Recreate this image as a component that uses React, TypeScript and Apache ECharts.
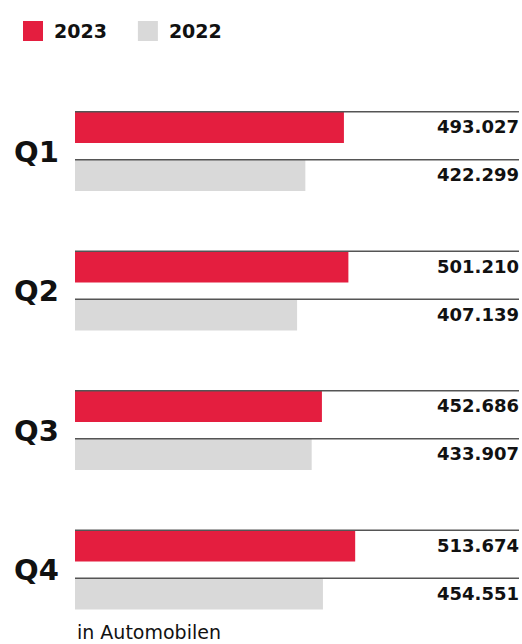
import React, { useEffect, useRef } from "react";
import * as echarts from "echarts";

const categories = ["Q1", "Q2", "Q3", "Q4"];
const values2023 = [493027, 501210, 452686, 513674];
const values2022 = [422299, 407139, 433907, 454551];
const seriesNames = ["2023", "2022"];
const footnote = "in Automobilen";

const X_MAX = 814000;
const BAR_W = 31;
const GAP_PX = 17;
const RED = "#e41e3f";
const GRAY = "#d9d9d9";
const FONT = "DejaVu Sans";

const fmt = (v: number) => {
  const s = String(Math.round(v));
  return s.length > 3 ? s.slice(0, -3) + "." + s.slice(-3) : s;
};

const makeRenderItem = (isTop: boolean) => (params: any, api: any) => {
  const cat = api.value(1);
  const v = api.value(0);
  const left = api.coord([0, cat]);
  const right = api.coord([X_MAX, cat]);
  const center = left[1];
  const barCenter = center + (isTop ? -1 : 1) * (BAR_W + GAP_PX) / 2;
  const barTop = barCenter - BAR_W / 2;
  return {
    type: "group",
    children: [
      {
        type: "line",
        shape: { x1: left[0], y1: barTop - 0.25, x2: right[0], y2: barTop - 0.25 },
        style: { stroke: "#555555", lineWidth: 1.5 },
      },
      {
        type: "text",
        style: {
          text: fmt(v),
          x: right[0],
          y: barCenter - 1,
          align: "right",
          verticalAlign: "middle",
          fontFamily: FONT,
          fontWeight: "bold",
          fontSize: 18,
          fill: "#111111",
        },
      },
    ],
  };
};

export default function App() {
  const ref = useRef<HTMLDivElement>(null);
  useEffect(() => {
    if (!ref.current) return;
    const chart = echarts.init(ref.current, undefined, { renderer: "svg" });
    chart.setOption({
      animation: false,
      backgroundColor: "#ffffff",
      legend: {
        left: 18,
        top: 16,
        itemWidth: 20,
        itemHeight: 20,
        itemGap: 31,
        icon: "rect",
        data: seriesNames,
        textStyle: {
          fontFamily: FONT,
          fontWeight: "bold",
          fontSize: 19,
          color: "#111111",
          padding: [0, 0, 0, 6],
        },
      },
      grid: { left: 75, right: 3, top: 81.75, bottom: 4.25, containLabel: false },
      xAxis: { type: "value", min: 0, max: X_MAX, show: false },
      yAxis: {
        type: "category",
        data: categories,
        inverse: true,
        axisLine: { show: false },
        axisTick: { show: false },
        splitLine: { show: false },
        axisLabel: {
          align: "left",
          margin: 61,
          fontFamily: FONT,
          fontWeight: "bold",
          fontSize: 29,
          color: "#111111",
        },
      },
      series: [
        {
          name: seriesNames[0],
          type: "bar",
          data: values2023,
          barWidth: BAR_W,
          barGap: (GAP_PX / BAR_W) * 100 + "%",
          itemStyle: { color: RED },
          z: 2,
        },
        {
          name: seriesNames[1],
          type: "bar",
          data: values2022,
          barWidth: BAR_W,
          barGap: (GAP_PX / BAR_W) * 100 + "%",
          itemStyle: { color: GRAY },
          z: 2,
        },
        {
          type: "custom",
          name: "lines2023",
          renderItem: makeRenderItem(true),
          data: values2023.map((v, i) => [v, i]),
          encode: { x: 0, y: 1 },
          z: 5,
          silent: true,
        },
        {
          type: "custom",
          name: "lines2022",
          renderItem: makeRenderItem(false),
          data: values2022.map((v, i) => [v, i]),
          encode: { x: 0, y: 1 },
          z: 5,
          silent: true,
        },
      ],
      graphic: [
        {
          type: "text",
          left: 77,
          top: 621,
          style: {
            text: footnote,
            fontFamily: FONT,
            fontSize: 19,
            lineHeight: 22,
            fill: "#111111",
          },
        },
      ],
    });
    return () => chart.dispose();
  }, []);
  return (
    <div
      ref={ref}
      style={{ position: "fixed", left: 0, top: 0, width: 522, height: 644 }}
    />
  );
}
